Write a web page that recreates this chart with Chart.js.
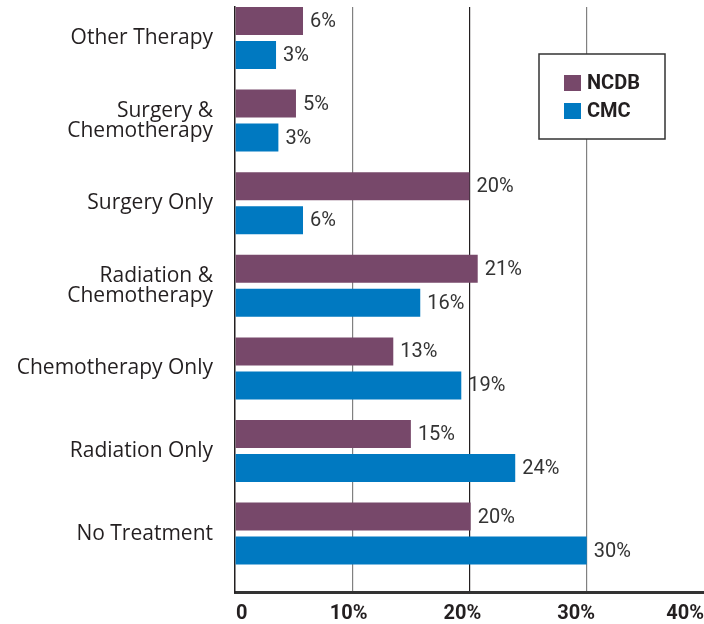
<!DOCTYPE html>
<html>
<head>
<meta charset="utf-8">
<script src="https://cdn.jsdelivr.net/npm/chart.js@4.4.1/dist/chart.umd.min.js"></script>
<style>
  html, body { margin: 0; padding: 0; background: #ffffff; overflow: hidden; }
  #wrap { position: relative; width: 704px; height: 624px; }
</style>
</head>
<body>
<div id="wrap"><canvas id="c" width="704" height="624"></canvas></div>
<script>
// ---- data ----
const categories = [
  'Other Therapy',
  'Surgery & Chemotherapy',
  'Surgery Only',
  'Radiation & Chemotherapy',
  'Chemotherapy Only',
  'Radiation Only',
  'No Treatment'
];
const seriesNames = ['NCDB', 'CMC'];
const ncdbValues = [5.8, 5.2, 20.0, 20.7, 13.5, 15.0, 20.1];
const cmcValues  = [3.5, 3.7, 5.8, 15.8, 19.3, 23.9, 30.0];
const ncdbLabels = ['6%', '5%', '20%', '21%', '13%', '15%', '20%'];
const cmcLabels  = ['3%', '3%', '6%', '16%', '19%', '24%', '30%'];
const xTickValues = [0, 10, 20, 30, 40];
const xTickLabels = ['0', '10%', '20%', '30%', '40%'];

const colors = ['#77486a', '#0079c1'];
const textDark = '#231f20';

// value labels at bar ends
const valueLabelPlugin = {
  id: 'valueLabels',
  afterDatasetsDraw(chart) {
    const ctx = chart.ctx;
    const texts = [ncdbLabels, cmcLabels];
    ctx.save();
    ctx.font = '400 20px Roboto';
    ctx.fillStyle = '#333333';
    ctx.textAlign = 'left';
    ctx.textBaseline = 'middle';
    chart.data.datasets.forEach((ds, di) => {
      const meta = chart.getDatasetMeta(di);
      meta.data.forEach((el, i) => {
        ctx.fillText(texts[di][i], el.x + 7, el.y + 1);
      });
    });
    ctx.restore();
  }
};

// x tick labels (bold, below axis)
const xLabelPlugin = {
  id: 'xLabels',
  afterDraw(chart) {
    const ctx = chart.ctx;
    const xs = chart.scales.x;
    const area = chart.chartArea;
    ctx.save();
    ctx.font = 'bold 20px Roboto';
    ctx.fillStyle = textDark;
    ctx.textBaseline = 'middle';
    const y = area.bottom + 22;
    xTickValues.forEach((v, i) => {
      const p = xs.getPixelForValue(v);
      const t = xTickLabels[i];
      const w = ctx.measureText(t).width;
      let cx = area.left + (p - area.left) * 0.97;
      let left = cx - w / 2;
      if (left < area.left + 1) left = area.left + 1;
      if (left + w > area.right) left = area.right - w;
      ctx.textAlign = 'left';
      ctx.fillText(t, left, y);
    });
    ctx.restore();
  }
};

// boxed legend inside plot
const boxLegendPlugin = {
  id: 'boxLegend',
  afterDraw(chart) {
    const ctx = chart.ctx;
    const area = chart.chartArea;
    const bx = area.left + 304, by = area.top + 47, bw = 126, bh = 85;
    ctx.save();
    ctx.fillStyle = '#ffffff';
    ctx.fillRect(bx, by, bw, bh);
    ctx.strokeStyle = '#333333';
    ctx.lineWidth = 1.5;
    ctx.strokeRect(bx, by, bw, bh);
    ctx.font = 'bold 20px Roboto';
    ctx.textBaseline = 'middle';
    ctx.textAlign = 'left';
    chart.data.datasets.forEach((ds, i) => {
      const sy = by + 21 + i * 28;
      ctx.fillStyle = ds.backgroundColor;
      ctx.fillRect(bx + 25, sy, 17, 16);
      ctx.fillStyle = textDark;
      ctx.fillText(ds.label, bx + 48, sy + 9);
    });
    ctx.restore();
  }
};

function splitLabel(s) {
  const k = s.indexOf(' & ');
  if (k >= 0) return [s.slice(0, k + 2), s.slice(k + 3)];
  return s;
}

new Chart(document.getElementById('c'), {
  type: 'bar',
  data: {
    datasets: [
      {
        label: seriesNames[0],
        data: ncdbValues.map((v, i) => ({ x: v, y: i })),
        backgroundColor: colors[0],
        categoryPercentage: 0.823,
        barPercentage: 0.8235
      },
      {
        label: seriesNames[1],
        data: cmcValues.map((v, i) => ({ x: v, y: i })),
        backgroundColor: colors[1],
        categoryPercentage: 0.823,
        barPercentage: 0.8235
      }
    ]
  },
  options: {
    indexAxis: 'y',
    responsive: false,
    animation: false,
    layout: { padding: { top: 7, right: 0, left: 0, bottom: 0 } },
    plugins: {
      legend: { display: false },
      tooltip: { enabled: false }
    },
    scales: {
      x: {
        type: 'linear',
        min: 0,
        max: 40,
        offset: false,
        afterBuildTicks(scale) {
          scale.ticks = xTickValues.map(v => ({ value: v }));
        },
        afterFit(scale) {
          scale.height = 32;
          scale.paddingLeft = 0;
          scale.paddingRight = 0;
        },
        ticks: { display: false },
        grid: {
          offset: false,
          drawTicks: false,
          lineWidth: 1.2,
          color(ctx) {
            const v = ctx.tick && ctx.tick.value;
            if (v === 0 || v === 40) return 'rgba(0,0,0,0)';
            if (v === 20) return '#231f20';
            return '#808080';
          }
        },
        border: { display: true, color: '#333333', width: 3 }
      },
      y: {
        type: 'linear',
        reverse: true,
        offset: false,
        min: -0.375,
        max: 6.707,
        afterBuildTicks(scale) {
          scale.ticks = categories.map((c, i) => ({ value: i }));
        },
        afterFit(scale) {
          scale.width = 235;
          scale.paddingTop = 0;
          scale.paddingBottom = 0;
        },
        ticks: {
          padding: 22,
          color: textDark,
          font: { family: 'Open Sans', size: 21, lineHeight: 0.95 },
          callback(value) { return splitLabel(categories[value]); }
        },
        grid: { display: false, drawTicks: false, offset: false },
        border: { display: true, color: '#231f20', width: 1.5 }
      }
    }
  },
  plugins: [valueLabelPlugin, xLabelPlugin, boxLegendPlugin]
});
</script>
</body>
</html>
